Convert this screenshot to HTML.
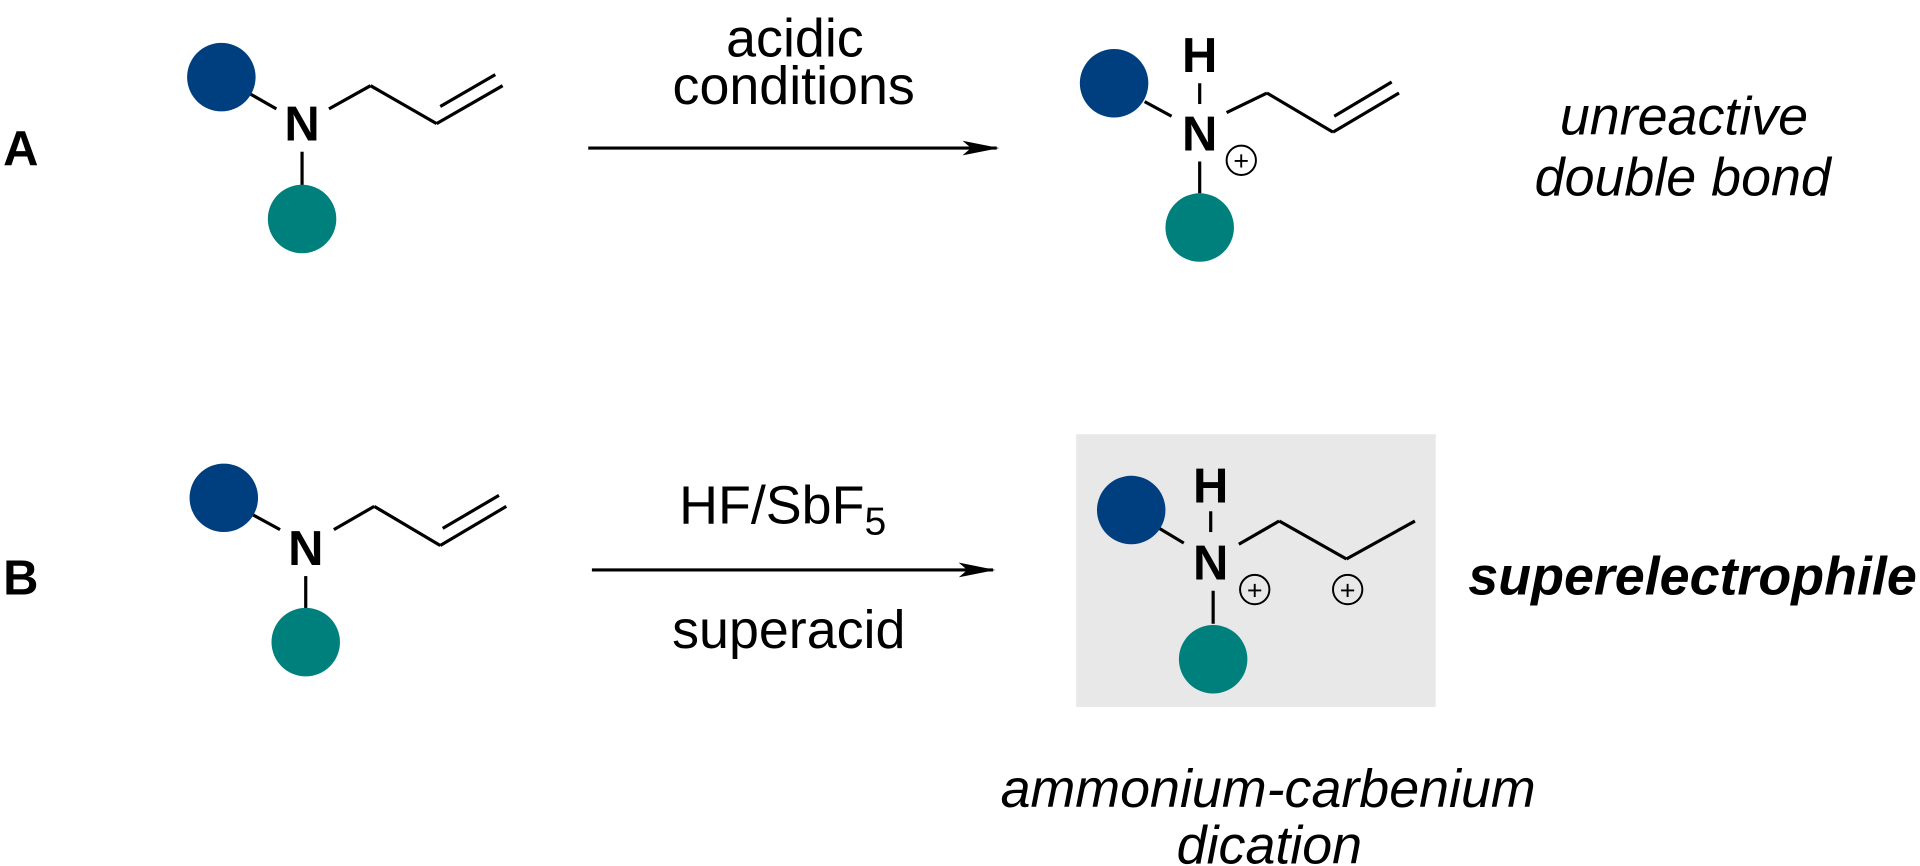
<!DOCTYPE html>
<html><head><style>html,body{margin:0;padding:0;background:#fff;}svg{display:block}</style></head>
<body>
<svg width="1920" height="866" viewBox="0 0 1570 708" xmlns="http://www.w3.org/2000/svg" font-family="Liberation Sans, Arial, sans-serif">
<defs><marker id="ah" markerWidth="30" markerHeight="12" refX="28" refY="6" orient="auto" markerUnits="userSpaceOnUse"><path d="M0,0 L30,6 L0,12 L7,6 Z" fill="#000"/></marker></defs>
<g stroke="#000" stroke-width="2.6" fill="none">
<line x1="205" y1="77" x2="226" y2="89"/><line x1="269" y1="89" x2="303" y2="70"/><line x1="303" y1="70" x2="357" y2="101"/><line x1="357" y1="101" x2="411" y2="70"/><line x1="360" y1="87" x2="405" y2="61"/><line x1="247" y1="124" x2="247" y2="152"/>
<line x1="481" y1="121" x2="815" y2="121" marker-end="url(#ah)"/>
<line x1="936" y1="83" x2="958" y2="95"/><line x1="981" y1="68" x2="981" y2="85"/><line x1="1003" y1="92" x2="1036" y2="76"/><line x1="1036" y1="76" x2="1090" y2="108"/><line x1="1090" y1="108" x2="1144" y2="76"/><line x1="1091" y1="95" x2="1138" y2="67"/><line x1="981" y1="132" x2="981" y2="158"/>
<circle cx="1015" cy="131" r="12" stroke-width="1.6"/>
<line x1="207" y1="421" x2="229" y2="433"/><line x1="273" y1="433" x2="306" y2="414"/><line x1="306" y1="414" x2="360" y2="446"/><line x1="360" y1="446" x2="414" y2="414"/><line x1="362" y1="432" x2="408" y2="405"/><line x1="250" y1="471" x2="250" y2="498"/>
<line x1="484" y1="466" x2="812" y2="466" marker-end="url(#ah)"/>
</g>
<rect x="880" y="355" width="294" height="223" fill="#e8e8e8"/>
<g stroke="#000" stroke-width="2.6" fill="none">
<line x1="948" y1="432" x2="968" y2="444"/><line x1="990" y1="418" x2="990" y2="435"/><line x1="1013" y1="445" x2="1046" y2="426"/><line x1="1046" y1="426" x2="1101" y2="457"/><line x1="1101" y1="457" x2="1157" y2="426"/><line x1="992" y1="483" x2="992" y2="510"/>
<circle cx="1026" cy="482" r="12" stroke-width="1.6"/><circle cx="1102" cy="482" r="12" stroke-width="1.6"/>
</g>
<g font-size="22" text-anchor="middle" fill="#000"><text x="1015" y="139">+</text><text x="1026" y="490">+</text><text x="1102" y="490">+</text></g>
<g fill="#003f7f"><circle cx="181" cy="63" r="28"/><circle cx="911" cy="68" r="28"/><circle cx="183" cy="407" r="28"/><circle cx="925" cy="417" r="28"/></g>
<g fill="#00807d"><circle cx="247" cy="179" r="28"/><circle cx="981" cy="186" r="28"/><circle cx="250" cy="525" r="28"/><circle cx="992" cy="539" r="28"/></g>
<g font-weight="bold" font-size="40" text-anchor="middle" fill="#000">
<text x="247" y="115">N</text><text x="981" y="59">H</text><text x="981" y="123">N</text>
<text x="250" y="462">N</text><text x="990" y="411">H</text><text x="990" y="474">N</text>
<text x="17" y="135">A</text><text x="17" y="486">B</text>
</g>
<g font-size="44" fill="#000" text-anchor="middle">
<text x="650" y="46">acidic</text>
<text x="649" y="85">conditions</text>
<text x="640" y="428">HF/SbF<tspan font-size="32" dy="9">5</tspan></text>
<text x="645" y="530">superacid</text>
</g>
<g font-size="44" font-style="italic" fill="#000" text-anchor="middle">
<text x="1377" y="110">unreactive</text>
<text x="1376" y="160">double bond</text>
<text x="1037" y="660">ammonium-carbenium</text>
<text x="1038" y="706">dication</text>
<text x="1384" y="486" font-weight="bold">superelectrophile</text>
</g>
</svg>
</body></html>
